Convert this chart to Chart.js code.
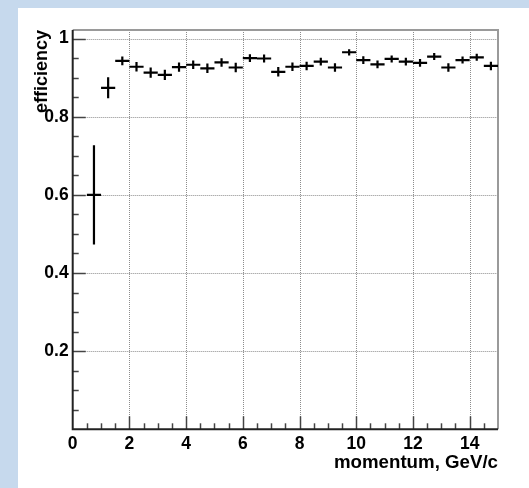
<!DOCTYPE html>
<html>
<head>
<meta charset="utf-8">
<script src="https://cdn.jsdelivr.net/npm/chart.js@4"></script>
<style>
  html, body { margin: 0; padding: 0; background: #c6d9ed; }
  canvas { display: block; }
</style>
</head>
<body>
<canvas id="eff" width="529" height="488"></canvas>
<script>
// Bin centres (GeV/c), 0.5 GeV/c wide bins
const momentum = [0.75, 1.25, 1.75, 2.25, 2.75, 3.25, 3.75, 4.25, 4.75, 5.25,
                  5.75, 6.25, 6.75, 7.25, 7.75, 8.25, 8.75, 9.25, 9.75, 10.25,
                  10.75, 11.25, 11.75, 12.25, 12.75, 13.25, 13.75, 14.25, 14.75];
const efficiency = [0.600, 0.874, 0.943, 0.928, 0.913, 0.907, 0.927, 0.933, 0.924, 0.939,
                    0.926, 0.950, 0.949, 0.915, 0.928, 0.930, 0.941, 0.926, 0.965, 0.945,
                    0.934, 0.948, 0.941, 0.938, 0.954, 0.926, 0.945, 0.952, 0.930];
const efficiencyErr = [0.127, 0.027, 0.011, 0.012, 0.013, 0.013, 0.012, 0.011, 0.012, 0.011,
                       0.012, 0.010, 0.010, 0.012, 0.011, 0.011, 0.010, 0.011, 0.008, 0.010,
                       0.010, 0.009, 0.010, 0.010, 0.009, 0.011, 0.009, 0.009, 0.011];
const binHalfWidth = 0.25;

const xTickValues = [0, 2, 4, 6, 8, 10, 12, 14];
const yTickValues = [0.2, 0.4, 0.6, 0.8, 1];
const xMinorStep = 0.5;
const yMinorStep = 0.05;

const FONT = '"Liberation Sans", Arial, Helvetica, sans-serif';

const frame = {
  id: 'frame',
  beforeDraw(chart) {
    const ctx = chart.ctx;
    ctx.save();
    ctx.fillStyle = '#c6d9ed';
    ctx.fillRect(0, 0, chart.width, chart.height);
    ctx.fillStyle = '#ffffff';
    ctx.fillRect(18, 8, chart.width - 18, chart.height - 8);
    ctx.restore();
  },
  beforeDatasetsDraw(chart) {
    const {ctx, chartArea: a, scales: {x, y}} = chart;
    ctx.save();
    // dotted grid
    ctx.strokeStyle = 'rgba(0,0,0,0.45)';
    ctx.lineWidth = 1;
    ctx.setLineDash([1, 1]);
    xTickValues.forEach(v => {
      if (v === 0) return;
      const px = Math.round(x.getPixelForValue(v)) + 0.5;
      ctx.beginPath(); ctx.moveTo(px, a.top); ctx.lineTo(px, a.bottom); ctx.stroke();
    });
    yTickValues.forEach(v => {
      const py = Math.round(y.getPixelForValue(v)) + 0.5;
      ctx.beginPath(); ctx.moveTo(a.left, py); ctx.lineTo(a.right, py); ctx.stroke();
    });
    ctx.setLineDash([]);

    // inner tick marks
    ctx.strokeStyle = '#444';
    ctx.lineWidth = 1.5;
    for (let v = yMinorStep; v < y.max; v += yMinorStep) {
      const major = yTickValues.some(t => Math.abs(t - v) < 1e-6);
      const py = Math.round(y.getPixelForValue(v)) + 0.5;
      ctx.beginPath(); ctx.moveTo(a.left, py); ctx.lineTo(a.left + (major ? 13 : 6), py); ctx.stroke();
    }
    for (let v = xMinorStep; v < x.max; v += xMinorStep) {
      const major = xTickValues.some(t => Math.abs(t - v) < 1e-6);
      const px = Math.round(x.getPixelForValue(v)) + 0.5;
      ctx.beginPath(); ctx.moveTo(px, a.bottom); ctx.lineTo(px, a.bottom - (major ? 13 : 6)); ctx.stroke();
    }

    // frame box: light top/right, dark axes
    ctx.strokeStyle = '#9a9a9a';
    ctx.lineWidth = 2;
    ctx.beginPath();
    ctx.moveTo(a.left, a.top); ctx.lineTo(a.right, a.top); ctx.lineTo(a.right, a.bottom);
    ctx.stroke();
    ctx.strokeStyle = '#222';
    ctx.beginPath();
    ctx.moveTo(a.left, a.top); ctx.lineTo(a.left, a.bottom); ctx.lineTo(a.right, a.bottom);
    ctx.stroke();
    ctx.restore();
  },
  afterDatasetsDraw(chart) {
    const {ctx, scales: {x, y}} = chart;
    ctx.save();
    ctx.strokeStyle = '#000';
    ctx.lineWidth = 2.2;
    momentum.forEach((m, i) => {
      const e = efficiency[i], d = efficiencyErr[i];
      const px = x.getPixelForValue(m);
      const py = y.getPixelForValue(e);
      ctx.beginPath();
      ctx.moveTo(x.getPixelForValue(m - binHalfWidth), py);
      ctx.lineTo(x.getPixelForValue(m + binHalfWidth), py);
      ctx.moveTo(px, y.getPixelForValue(e + d));
      ctx.lineTo(px, y.getPixelForValue(e - d));
      ctx.stroke();
    });
    ctx.restore();
  }
};

new Chart(document.getElementById('eff'), {
  type: 'scatter',
  data: {
    datasets: [{
      label: 'efficiency',
      data: momentum.map((m, i) => ({x: m, y: efficiency[i]})),
      pointRadius: 0,
      showLine: false
    }]
  },
  options: {
    responsive: false,
    animation: false,
    devicePixelRatio: 1,
    layout: { padding: { left: 0, top: 30, right: 31, bottom: 0 } },
    plugins: { legend: { display: false }, tooltip: { enabled: false } },
    scales: {
      x: {
        type: 'linear',
        min: 0, max: 15,
        grid: { display: false, drawTicks: false },
        border: { display: false },
        afterBuildTicks(s) { s.ticks = xTickValues.map(v => ({value: v})); },
        afterFit(s) { s.height = 58.7; },
        ticks: {
          color: '#000',
          padding: 4,
          maxRotation: 0,
          autoSkip: false,
          font: { family: FONT, size: 17.5, weight: 'bold' },
          callback: v => String(v)
        },
        title: {
          display: true,
          text: 'momentum, GeV/c',
          align: 'end',
          color: '#000',
          padding: { top: 0, bottom: 13.5 },
          font: { family: FONT, size: 18.7, weight: 'bold', lineHeight: 1.2 }
        }
      },
      y: {
        type: 'linear',
        min: 0, max: 1.022,
        grid: { display: false, drawTicks: false },
        border: { display: false },
        afterBuildTicks(s) { s.ticks = yTickValues.map(v => ({value: v})); },
        afterFit(s) { s.width = 72.7; },
        ticks: {
          color: '#000',
          padding: 4,
          autoSkip: false,
          font: { family: FONT, size: 17.5, weight: 'bold' },
          callback: v => String(v)
        },
        title: {
          display: true,
          text: 'efficiency',
          align: 'end',
          color: '#000',
          padding: { top: 31.5, bottom: 0 },
          font: { family: FONT, size: 18, weight: 'bold', lineHeight: 1.2 }
        }
      }
    }
  },
  plugins: [frame]
});
</script>
</body>
</html>
